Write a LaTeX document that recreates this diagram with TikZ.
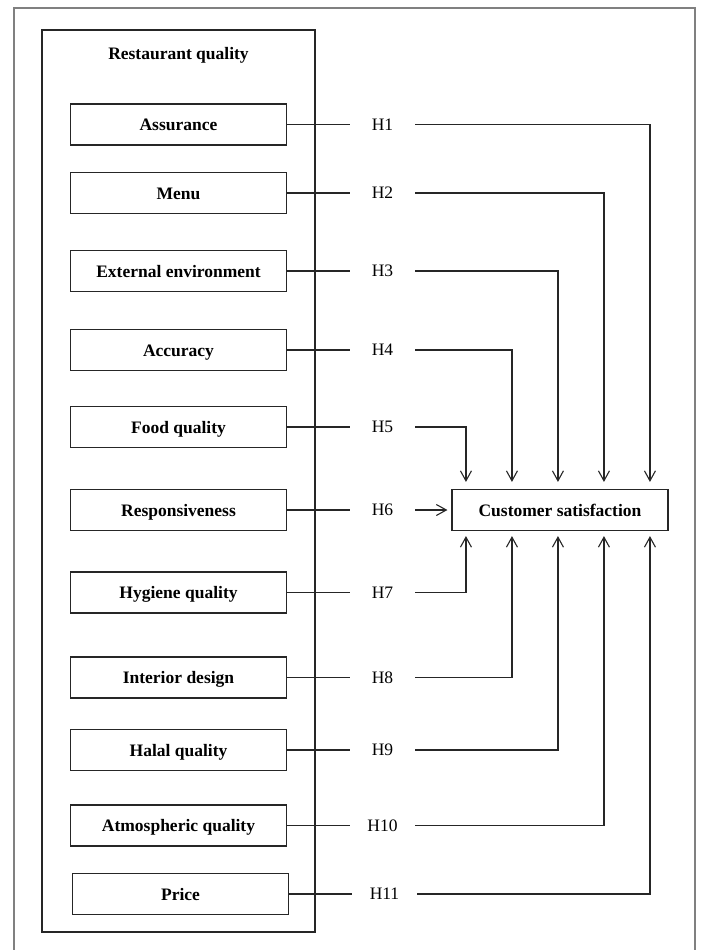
\documentclass[tikz,border=0pt]{standalone}
\usepackage{fontspec}
\setmainfont{Liberation Serif}
\usetikzlibrary{positioning,arrows.meta}

\begin{document}
\begin{tikzpicture}[x=1pt, y=-1pt]
        \tikzstyle{factor} = [rectangle, minimum width=216pt, minimum height=41pt, text centered, text height=12pt, text depth=0pt, draw=black!85, line width=1.1pt, font=\fontsize{17.5}{21}\selectfont\bfseries]
        \tikzstyle{hyp} = [minimum width=65pt, inner sep=0pt, font=\fontsize{17.5}{21}\selectfont]
        \tikzstyle{link} = [line width=1.1pt, draw=black!85]
        \tikzstyle{arrow} = [link, -{Straight Barb[length=10pt, width=11pt]}]

        \useasboundingbox (0,0) rectangle (701,950);
        \draw [gray, line width=1.5pt] (14,950) -- (14,8) -- (695,8) -- (695,950);

        % restaurant quality block
        \node (rq) [rectangle, draw=black!85, line width=1.1pt, minimum width=273pt, minimum height=902pt] at (178.5,481) {};
        \node (rqtitle) [below=18pt of rq.north, inner sep=0pt, text height=12pt, text depth=0pt, font=\fontsize{17.5}{21}\selectfont\bfseries] {Restaurant quality};

        \node (asr) [factor] at (178.5,124.5) {Assurance};
        \node (menu) [factor, node distance=68.5pt, below of=asr] {Menu};
        \node (extenv) [factor, node distance=78pt, below of=menu] {External environment};
        \node (accu) [factor, node distance=79pt, below of=extenv] {Accuracy};
        \node (food) [factor, node distance=77pt, below of=accu] {Food quality};
        \node (resp) [factor, node distance=83pt, below of=food] {Responsiveness};
        \node (hyg) [factor, node distance=82.5pt, below of=resp] {Hygiene quality};
        \node (inter) [factor, node distance=85pt, below of=hyg] {Interior design};
        \node (halal) [factor, node distance=72.5pt, below of=inter] {Halal quality};
        \node (atmo) [factor, node distance=75.5pt, below of=halal] {Atmospheric quality};
        \node (price) [factor, node distance=68.5pt, below of=atmo, xshift=2pt] {Price};

        % hypotheses
        \node (h1) [hyp, node distance=204pt, right of=asr] {H1};
        \node (h2) [hyp, node distance=204pt, right of=menu] {H2};
        \node (h3) [hyp, node distance=204pt, right of=extenv] {H3};
        \node (h4) [hyp, node distance=204pt, right of=accu] {H4};
        \node (h5) [hyp, node distance=204pt, right of=food] {H5};
        \node (h6) [hyp, node distance=204pt, right of=resp] {H6};
        \node (h7) [hyp, node distance=204pt, right of=hyg] {H7};
        \node (h8) [hyp, node distance=204pt, right of=inter] {H8};
        \node (h9) [hyp, node distance=204pt, right of=halal] {H9};
        \node (h10) [hyp, node distance=204pt, right of=atmo] {H10};
        \node (h11) [hyp, node distance=204pt, right of=price] {H11};

        \node (cs) [factor, node distance=177.5pt, right of=h6] {Customer satisfaction};

        \draw [link] (asr) -- (h1);
        \draw [link] (menu) -- (h2);
        \draw [link] (extenv) -- (h3);
        \draw [link] (accu) -- (h4);
        \draw [link] (food) -- (h5);
        \draw [link] (resp) -- (h6);
        \draw [link] (hyg) -- (h7);
        \draw [link] (inter) -- (h8);
        \draw [link] (halal) -- (h9);
        \draw [link] (atmo) -- (h10);
        \draw [link] (price) -- (h11);

        \draw [arrow, shorten >=7pt] (h1) -| ([xshift=198.5pt]cs.north west);
        \draw [arrow, shorten >=7pt] (h2) -| ([xshift=152.5pt]cs.north west);
        \draw [arrow, shorten >=7pt] (h3) -| ([xshift=106.5pt]cs.north west);
        \draw [arrow, shorten >=7pt] (h4) -| ([xshift=60.5pt]cs.north west);
        \draw [arrow, shorten >=7pt] (h5) -| ([xshift=14.5pt]cs.north west);
        \draw [arrow, shorten >=4pt] (h6) -- (cs);
        \draw [arrow, shorten >=5pt] (h7) -| ([xshift=14.5pt]cs.south west);
        \draw [arrow, shorten >=5pt] (h8) -| ([xshift=60.5pt]cs.south west);
        \draw [arrow, shorten >=5pt] (h9) -| ([xshift=106.5pt]cs.south west);
        \draw [arrow, shorten >=5pt] (h10) -| ([xshift=152.5pt]cs.south west);
        \draw [arrow, shorten >=5pt] (h11) -| ([xshift=198.5pt]cs.south west);
\end{tikzpicture}
\end{document}
